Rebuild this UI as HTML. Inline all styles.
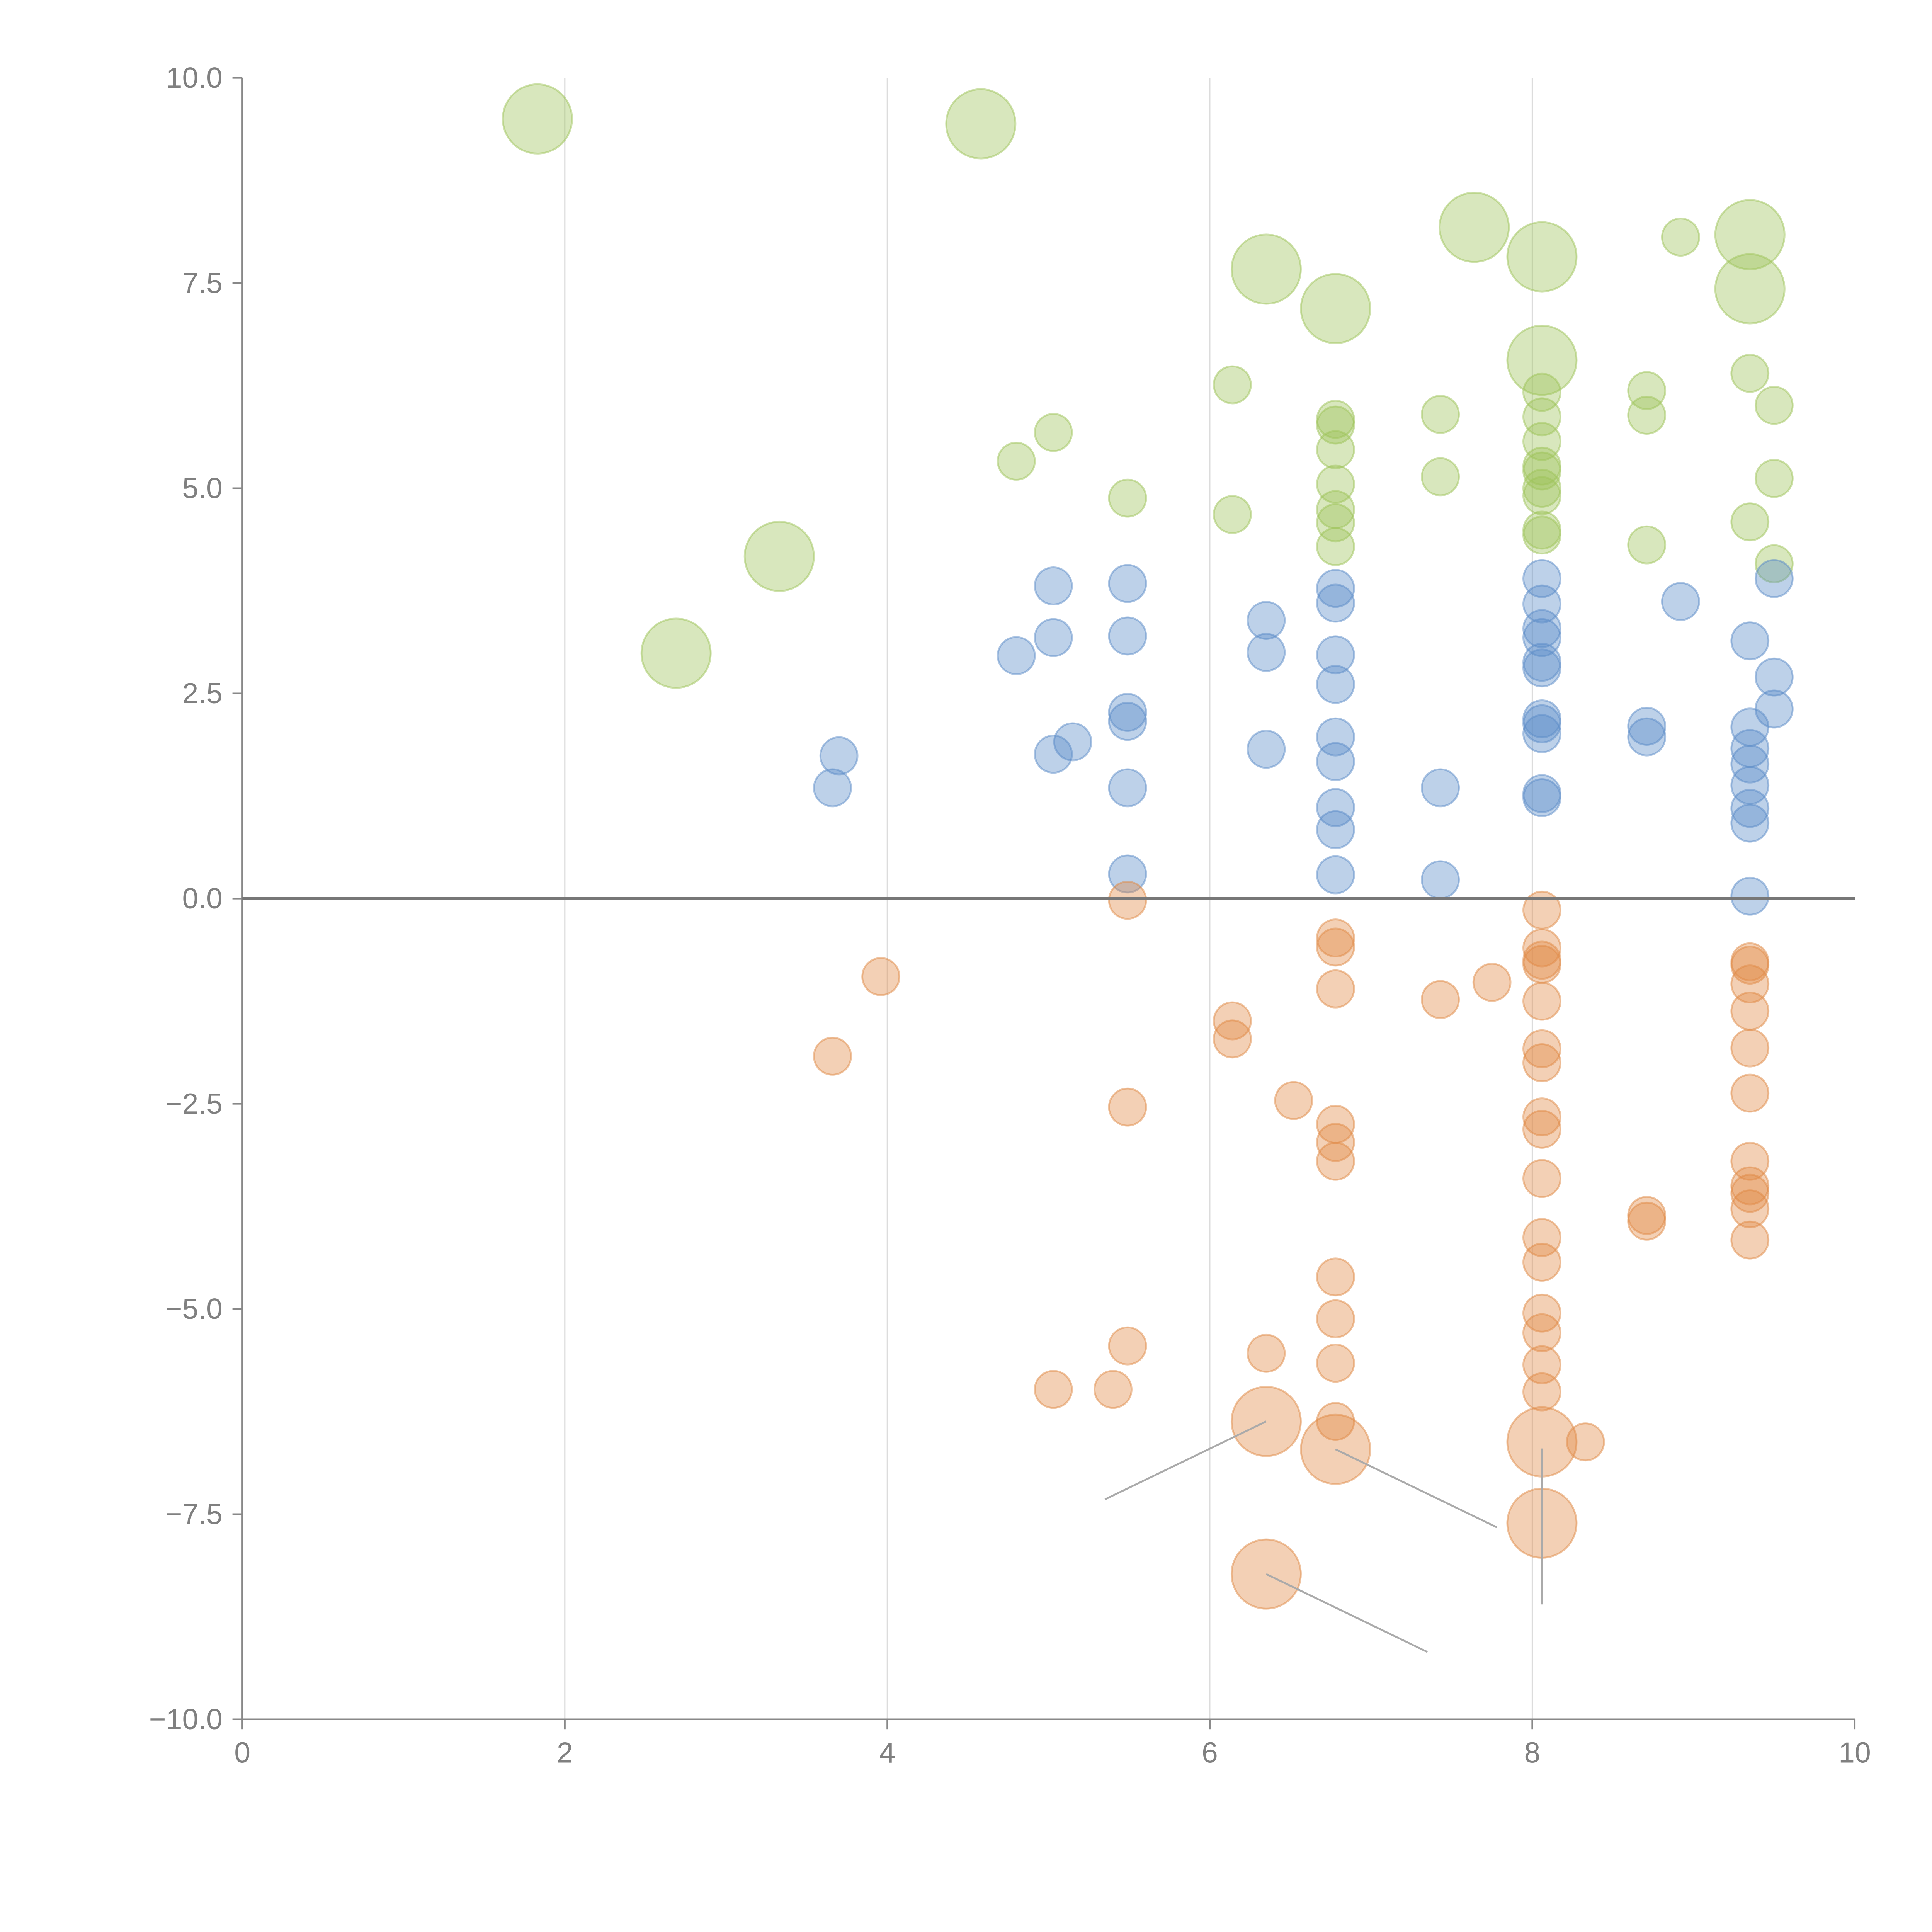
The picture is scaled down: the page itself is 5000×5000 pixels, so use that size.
<!DOCTYPE html>
<html><head><meta charset="utf-8"><style>html,body{margin:0;padding:0;background:#fff}svg{display:block}</style></head>
<body>
<svg id="chart" xmlns="http://www.w3.org/2000/svg" width="5000" height="5000" viewBox="0 0 1562.5 1562.5" font-family="Liberation Sans, sans-serif"></svg>
<script>
const xTicks=[0,2,4,6,8,10];
const yTicks=[-10,-7.5,-5,-2.5,0,2.5,5,7.5,10];
const yTickLabels=["\u221210.0","\u22127.5","\u22125.0","\u22122.5","0.0","2.5","5.0","7.5","10.0"];
const greenX=[1.83,4.58,3.33,2.69,6.35,6.78,7.64,8.06,8.06,9.35,9.35,6.14,6.14,4.80,5.03,5.49,6.78,6.78,6.78,6.78,6.78,6.78,6.78,7.43,7.43,8.06,8.06,8.06,8.06,8.06,8.06,8.06,8.06,8.06,8.71,8.71,8.71,8.92,9.35,9.35,9.50,9.50,9.50];
const greenY=[9.5,9.44,4.17,2.99,7.67,7.19,8.18,7.82,6.56,8.09,7.43,6.26,4.68,5.33,5.68,4.88,5.84,5.77,5.47,5.05,4.74,4.58,4.29,5.90,5.14,6.17,5.87,5.57,5.27,5.21,5.00,4.91,4.49,4.43,6.19,5.89,4.31,8.06,6.40,4.59,6.01,5.12,4.08];
const greenS=[2,2,2,2,2,2,2,2,2,2,2,1,1,1,1,1,1,1,1,1,1,1,1,1,1,1,1,1,1,1,1,1,1,1,1,1,1,1,1,1,1,1,1];
const blueX=[3.66,3.70,4.80,5.03,5.03,5.03,5.15,5.49,5.49,5.49,5.49,5.49,5.49,6.35,6.35,6.35,6.78,6.78,6.78,6.78,6.78,6.78,6.78,6.78,6.78,7.43,7.43,8.06,8.06,8.06,8.06,8.06,8.06,8.06,8.06,8.06,8.06,8.06,8.71,8.71,8.92,9.35,9.35,9.35,9.35,9.35,9.35,9.35,9.35,9.50,9.50,9.50];
const blueY=[1.35,1.74,2.96,3.81,3.18,1.76,1.91,3.84,3.20,2.27,2.16,1.35,0.30,3.39,3.00,1.82,3.78,3.60,2.97,2.61,1.97,1.67,1.11,0.84,0.29,1.35,0.23,3.90,3.59,3.29,3.18,2.88,2.81,2.19,2.13,2.01,1.28,1.23,2.10,1.97,3.62,3.14,2.09,1.83,1.64,1.38,1.10,0.92,0.03,3.90,2.70,2.31];
const orangeX=[3.66,3.96,5.03,5.40,5.49,5.49,5.49,6.14,6.14,6.35,6.52,6.78,6.78,6.78,6.78,6.78,6.78,6.78,6.78,6.78,6.78,7.43,7.75,8.06,8.06,8.06,8.06,8.06,8.06,8.06,8.06,8.06,8.06,8.06,8.06,8.06,8.06,8.06,8.06,8.33,8.71,8.71,9.35,9.35,9.35,9.35,9.35,9.35,9.35,9.35,9.35,9.35,9.35,6.35,6.78,8.06,8.06,6.35];
const orangeY=[-1.92,-0.95,-5.98,-5.98,-0.02,-2.54,-5.45,-1.49,-1.71,-5.54,-2.46,-0.48,-0.59,-1.10,-2.75,-2.97,-3.20,-4.61,-5.12,-5.66,-6.37,-1.23,-1.02,-0.14,-0.60,-0.75,-0.80,-1.25,-1.83,-2.00,-2.66,-2.81,-3.41,-4.13,-4.43,-5.05,-5.29,-5.68,-6.01,-6.62,-3.86,-3.93,-0.77,-0.81,-1.04,-1.37,-1.82,-2.37,-3.20,-3.50,-3.59,-3.78,-4.16,-6.37,-6.71,-6.62,-7.61,-8.23];
const orangeS=[1,1,1,1,1,1,1,1,1,1,1,1,1,1,1,1,1,1,1,1,1,1,1,1,1,1,1,1,1,1,1,1,1,1,1,1,1,1,1,1,1,1,1,1,1,1,1,1,1,1,1,1,1,2,2,2,2,2];

const NS='http://www.w3.org/2000/svg';
const svg=document.getElementById('chart');
const X0=196,X1=1500,Y0=1390.5,Y1=63;
function sx(v){return X0+(v-0)/(10-0)*(X1-X0);}
function sy(v){return Y0-(v+10)/20*(Y0-Y1);}
function rad(s){return s===2?28:15;}
function mk(tag,attrs,parent){const e=document.createElementNS(NS,tag);for(const k in attrs)e.setAttribute(k,attrs[k]);(parent||svg).appendChild(e);return e;}

for(const t of [2,4,6,8]){
  const g=mk('line',{x1:sx(t),x2:sx(t),y1:Y1,y2:Y0,stroke:'#dcdcdc','stroke-width':1});
  
  
}
const ya=mk('line',{x1:X0,x2:X0,y1:Y1,y2:Y0,stroke:'#888','stroke-width':1.3});


const xa=mk('line',{x1:X0,x2:X1,y1:Y0,y2:Y0,stroke:'#888','stroke-width':1.3});


xTicks.forEach(t=>{
  mk('line',{x1:sx(t),x2:sx(t),y1:Y0,y2:Y0+8,stroke:'#888','stroke-width':1.3});
  const tx=mk('text',{x:sx(t),y:Y0+35,'text-anchor':'middle','font-size':23.5,fill:'#808080'});
  tx.textContent=String(t);
  
  
});
yTicks.forEach((t,i)=>{
  mk('line',{x1:X0-8,x2:X0,y1:sy(t),y2:sy(t),stroke:'#888','stroke-width':1.3});
  const tx=mk('text',{x:X0-16,y:sy(t)+8,'text-anchor':'end','font-size':23.5,fill:'#808080'});
  tx.textContent=yTickLabels[i];
  
  
});

function series(xs,ys,ss,fill,stroke,name){
  const g=mk('g',{});
  
  
  xs.forEach((x,i)=>{
    const c=mk('circle',{cx:sx(x),cy:sy(ys[i]),r:rad(ss?ss[i]:1),fill:fill,'fill-opacity':0.4,stroke:stroke,'stroke-opacity':0.5,'stroke-width':1.5},g);
    
    
  });
}
series(greenX,greenY,greenS,'#9dc35a','#9dc35a','green');
series(blueX,blueY,null,'#5b8cc8','#5b8cc8','blue');
series(orangeX,orangeY,orangeS,'#e08a45','#e08a45','orange');

const z=mk('line',{x1:X0,x2:X1,y1:sy(0),y2:sy(0),stroke:'#777','stroke-width':2.5});



const leaders=[[6.35,-6.37,-1.0,-0.95],[6.78,-6.71,1.0,-0.95],[8.06,-6.7,0,-1.9],[6.35,-8.23,1.0,-0.95]];
leaders.forEach(l=>{
  const x1=sx(l[0]),y1=sy(l[1]);
  const x2=sx(l[0]+l[2]),y2=sy(l[1]+l[3]);
  const ln=mk('line',{x1:x1,y1:y1,x2:x2,y2:y2,stroke:'#aaa','stroke-width':1.5});
  
  
});
</script>
</body></html>
